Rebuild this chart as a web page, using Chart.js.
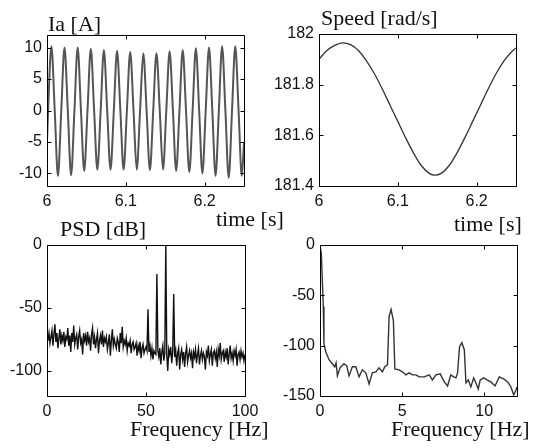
<!DOCTYPE html>
<html>
<head>
<meta charset="utf-8">
<script src="https://cdn.jsdelivr.net/npm/chart.js@4.4.1/dist/chart.umd.min.js"></script>
<style>
  body { margin: 0; background: #fff; }
  #wrap { position: relative; width: 539px; height: 448px; overflow: hidden; }
  #wrap canvas { position: absolute; left: 0; top: 0; }
  .lbl { position: absolute; font: 22px/22px 'Liberation Serif', 'Times New Roman', serif; color: #111; white-space: nowrap; }
</style>
</head>
<body>
<div id="wrap">
  <canvas id="c1" width="539" height="448"></canvas>
  <canvas id="c2" width="539" height="448"></canvas>
  <canvas id="c3" width="539" height="448"></canvas>
  <canvas id="c4" width="539" height="448"></canvas>
  <div class="lbl" style="left:48px;top:13px">Ia [A]</div>
  <div class="lbl" style="left:321px;top:7px">Speed [rad/s]</div>
  <div class="lbl" style="left:216px;top:208px">time [s]</div>
  <div class="lbl" style="left:454px;top:213px">time [s]</div>
  <div class="lbl" style="left:60px;top:218px">PSD [dB]</div>
  <div class="lbl" style="left:130px;top:418px">Frequency [Hz]</div>
  <div class="lbl" style="left:391px;top:418px">Frequency [Hz]</div>
</div>
<script>
// phase current, one point per peak / zero / trough
const iaTime = [
  6.0000, 6.0014,
  6.0056, 6.0098, 6.0139, 6.0181,
  6.0222, 6.0264, 6.0306, 6.0348,
  6.0389, 6.0431, 6.0472, 6.0514,
  6.0556, 6.0598, 6.0639, 6.0681,
  6.0722, 6.0764, 6.0806, 6.0848,
  6.0889, 6.0931, 6.0972, 6.1014,
  6.1056, 6.1098, 6.1139, 6.1181,
  6.1222, 6.1264, 6.1306, 6.1348,
  6.1389, 6.1431, 6.1472, 6.1514,
  6.1556, 6.1598, 6.1639, 6.1681,
  6.1722, 6.1764, 6.1806, 6.1848,
  6.1889, 6.1931, 6.1972, 6.2014,
  6.2056, 6.2098, 6.2139, 6.2181,
  6.2222, 6.2264, 6.2306, 6.2348,
  6.2389, 6.2431, 6.2472, 6.2500
];
const iaCurrent = [
  -5.0, 0,
  10.2, 0, -10.4, 0,
  10.0, 0, -10.3, 0,
  10.0, 0, -9.6, 0,
  9.8, 0, -9.4, 0,
  9.6, 0, -9.4, 0,
  9.5, 0, -9.4, 0,
  9.3, 0, -9.4, 0,
  9.1, 0, -9.5, 0,
  9.1, 0, -9.4, 0,
  9.4, 0, -9.6, 0,
  9.6, 0, -9.8, 0,
  9.9, 0, -10.0, 0,
  10.0, 0, -10.4, 0,
  10.2, 0, -10.7, 0,
  10.2, 0, -10.4, -5.1
];

const speedTime = [6.000, 6.010, 6.020, 6.030, 6.040, 6.050, 6.060, 6.070, 6.080, 6.090,
  6.100, 6.110, 6.120, 6.130, 6.140, 6.147, 6.155, 6.165, 6.175, 6.185,
  6.195, 6.205, 6.215, 6.225, 6.235, 6.243, 6.250];
const speedValue = [181.90, 181.935, 181.955, 181.965, 181.958, 181.935, 181.895, 181.845, 181.785, 181.72,
  181.655, 181.59, 181.53, 181.48, 181.45, 181.443, 181.45, 181.48, 181.53, 181.59,
  181.655, 181.72, 181.785, 181.845, 181.895, 181.925, 181.945];

// PSD of the current, 0.5 Hz bins
const psdFreq = [
  0, 0.5, 1, 1.5, 2, 2.5, 3, 3.5, 4, 4.5,
  5, 5.5, 6, 6.5, 7, 7.5, 8, 8.5, 9, 9.5,
  10, 10.5, 11, 11.5, 12, 12.5, 13, 13.5, 14, 14.5,
  15, 15.5, 16, 16.5, 17, 17.5, 18, 18.5, 19, 19.5,
  20, 20.5, 21, 21.5, 22, 22.5, 23, 23.5, 24, 24.5,
  25, 25.5, 26, 26.5, 27, 27.5, 28, 28.5, 29, 29.5,
  30, 30.5, 31, 31.5, 32, 32.5, 33, 33.5, 34, 34.5,
  35, 35.5, 36, 36.5, 37, 37.5, 38, 38.5, 39, 39.5,
  40, 40.5, 41, 41.5, 42, 42.5, 43, 43.5, 44, 44.5,
  45, 45.5, 46, 46.5, 47, 47.5, 48, 48.5, 49, 49.5,
  50, 50.5, 51, 51.5, 52, 52.5, 53, 53.5, 54, 54.5,
  55, 55.5, 56, 56.5, 57, 57.5, 58, 58.5, 59, 59.5,
  60, 60.5, 61, 61.5, 62, 62.5, 63, 63.5, 64, 64.5,
  65, 65.5, 66, 66.5, 67, 67.5, 68, 68.5, 69, 69.5,
  70, 70.5, 71, 71.5, 72, 72.5, 73, 73.5, 74, 74.5,
  75, 75.5, 76, 76.5, 77, 77.5, 78, 78.5, 79, 79.5,
  80, 80.5, 81, 81.5, 82, 82.5, 83, 83.5, 84, 84.5,
  85, 85.5, 86, 86.5, 87, 87.5, 88, 88.5, 89, 89.5,
  90, 90.5, 91, 91.5, 92, 92.5, 93, 93.5, 94, 94.5,
  95, 95.5, 96, 96.5, 97, 97.5, 98, 98.5, 99, 99.5,
  100
];
const psdLevel = [
  -72, -76, -70, -78, -73, -68, -80, -71, -63, -77,
  -70, -82, -74, -67, -79, -72, -76, -69, -81, -73,
  -75, -66, -80, -72, -85, -70, -77, -64, -79, -74,
  -71, -83, -73, -68, -78, -75, -87, -70, -76, -72,
  -80, -69, -77, -74, -84, -71, -66, -79, -73, -82,
  -75, -70, -86, -76, -72, -79, -68, -81, -74, -77,
  -73, -83, -78, -71, -88, -76, -67, -80, -75, -79,
  -82, -74, -77, -85, -70, -78, -65, -81, -76, -79,
  -74, -84, -78, -80, -76, -86, -79, -77, -83, -81,
  -78, -88, -80, -84, -77, -90, -82, -79, -86, -83,
  -81, -84, -51, -85, -80, -88, -82, -91, -84, -86,
  -87, -23, -84, -89, -82, -95, -85, -80, -92, -86,
  0, -88, -100, -83, -87, -81, -94, -85, -39, -89,
  -84, -96, -86, -82, -99, -87, -83, -91, -85, -97,
  -86, -81, -93, -88, -84, -90, -86, -98, -85, -89,
  -83, -94, -87, -82, -95, -88, -84, -91, -86, -89,
  -99, -85, -88, -80, -92, -87, -83, -96, -86, -84,
  -90, -85, -97, -83, -88, -78, -91, -86, -84, -93,
  -85, -89, -82, -95, -87, -80, -90, -86, -92, -84,
  -88, -83, -96, -87, -85, -91, -84, -89, -86, -92,
  -87
];

// spectrum of the speed
const specFreq = [0, 0.08, 0.2, 0.24, 0.35, 0.55, 0.75, 0.9, 0.98, 1.06,
  1.22, 1.46, 1.63, 1.77, 1.97, 2.18, 2.38, 2.58, 2.79, 2.99,
  3.19, 3.4, 3.6, 3.8, 3.95, 4.11, 4.21, 4.33, 4.47, 4.56,
  4.82, 5.02, 5.23, 5.43, 5.63, 5.84, 6.04, 6.35, 6.65, 6.85,
  7.06, 7.32, 7.57, 7.77, 7.97, 8.14, 8.28, 8.38, 8.5, 8.64,
  8.79, 8.89, 9.03, 9.19, 9.36, 9.5, 9.64, 9.76, 9.97, 10.17,
  10.41, 10.66, 10.92, 11.19, 11.43, 11.63, 11.8, 11.94, 12];
const specLevel = [-1, -8, -61, -98, -106, -114, -118, -121, -117, -130,
  -122, -118, -120, -130, -121, -121, -131, -124, -127, -138,
  -127, -126, -122, -126, -121, -119, -71, -64, -75, -123,
  -124, -126, -129, -127, -129, -129, -131, -131, -129, -134,
  -129, -128, -136, -140, -129, -131, -132, -127, -101, -97,
  -104, -137, -134, -141, -132, -137, -143, -134, -132, -134,
  -136, -140, -131, -133, -136, -141, -149, -144, -141];

const timeTicks = [6, 6.1, 6.2];
const iaTicks = [-10, -5, 0, 5, 10];
const speedTicks = [181.4, 181.6, 181.8, 182];
const psdFreqTicks = [0, 50, 100];
const psdTicks = [-100, -50, 0];
const specFreqTicks = [0, 5, 10];
const specTicks = [-150, -100, -50, 0];

Chart.defaults.font.family = "'Liberation Sans', Arial, sans-serif";
Chart.defaults.font.size = 16;
Chart.defaults.color = '#111';

// matlab style box with ticks pointing inwards
const framePlugin = {
  id: 'frame',
  afterDraw(chart) {
    const { ctx, chartArea: a, scales } = chart;
    const L = Math.round(a.left) + 0.5, R = Math.round(a.right) + 0.5;
    const T = Math.round(a.top) + 0.5, B = Math.round(a.bottom) + 0.5;
    ctx.save();
    ctx.strokeStyle = '#000';
    ctx.lineWidth = 1;
    ctx.beginPath();
    ctx.rect(L, T, R - L, B - T);
    const len = 4;
    scales.x.ticks.forEach(t => {
      const px = Math.round(scales.x.getPixelForValue(t.value)) + 0.5;
      ctx.moveTo(px, B); ctx.lineTo(px, B - len);
      ctx.moveTo(px, T); ctx.lineTo(px, T + len);
    });
    scales.y.ticks.forEach(t => {
      const py = Math.round(scales.y.getPixelForValue(t.value)) + 0.5;
      ctx.moveTo(L, py); ctx.lineTo(L + len, py);
      ctx.moveTo(R, py); ctx.lineTo(R - len, py);
    });
    ctx.stroke();
    ctx.restore();
  }
};

function makeChart(id, xs, ys, opt) {
  const pts = xs.map((x, i) => ({ x: x, y: ys[i] }));
  return new Chart(document.getElementById(id), {
    type: 'line',
    data: {
      datasets: [{
        data: pts,
        borderColor: opt.color,
        borderWidth: opt.width,
        pointRadius: 0,
        tension: 0,
        cubicInterpolationMode: opt.smooth ? 'monotone' : 'default'
      }]
    },
    options: {
      responsive: false,
      animation: false,
      devicePixelRatio: 1,
      layout: { padding: opt.pad },
      plugins: { legend: { display: false }, tooltip: { enabled: false } },
      scales: {
        x: {
          type: 'linear',
          min: opt.xMin, max: opt.xMax,
          grid: { display: false, drawTicks: false },
          border: { display: false },
          ticks: { padding: 6, maxRotation: 0, callback: v => String(v) },
          afterBuildTicks: s => { s.ticks = opt.xTicks.map(v => ({ value: v })); },
          afterFit: s => { s.height = 30; }
        },
        y: {
          min: opt.yMin, max: opt.yMax,
          grid: { display: false, drawTicks: false },
          border: { display: false },
          ticks: { padding: 5, callback: v => String(v) },
          afterBuildTicks: s => { s.ticks = opt.yTicks.map(v => ({ value: v })); },
          afterFit: s => { s.width = 47; }
        }
      }
    },
    plugins: [framePlugin]
  });
}

makeChart('c1', iaTime, iaCurrent, {
  color: '#555', width: 2, smooth: true,
  xMin: 6, xMax: 6.25, yMin: -12, yMax: 12, xTicks: timeTicks, yTicks: iaTicks,
  pad: { left: 0, right: 295, top: 35, bottom: 232 }
});
makeChart('c2', speedTime, speedValue, {
  color: '#333', width: 1.3, smooth: true,
  xMin: 6, xMax: 6.25, yMin: 181.4, yMax: 182, xTicks: timeTicks, yTicks: speedTicks,
  pad: { left: 272, right: 23, top: 34, bottom: 232 }
});
makeChart('c3', psdFreq, psdLevel, {
  color: '#111', width: 1.4, smooth: false,
  xMin: 0, xMax: 100, yMin: -120, yMax: 0, xTicks: psdFreqTicks, yTicks: psdTicks,
  pad: { left: 0, right: 294, top: 245, bottom: 22 }
});
makeChart('c4', specFreq, specLevel, {
  color: '#333', width: 1.4, smooth: false,
  xMin: 0, xMax: 12, yMin: -150, yMax: 0, xTicks: specFreqTicks, yTicks: specTicks,
  pad: { left: 273, right: 22, top: 245, bottom: 22 }
});
</script>
</body>
</html>
